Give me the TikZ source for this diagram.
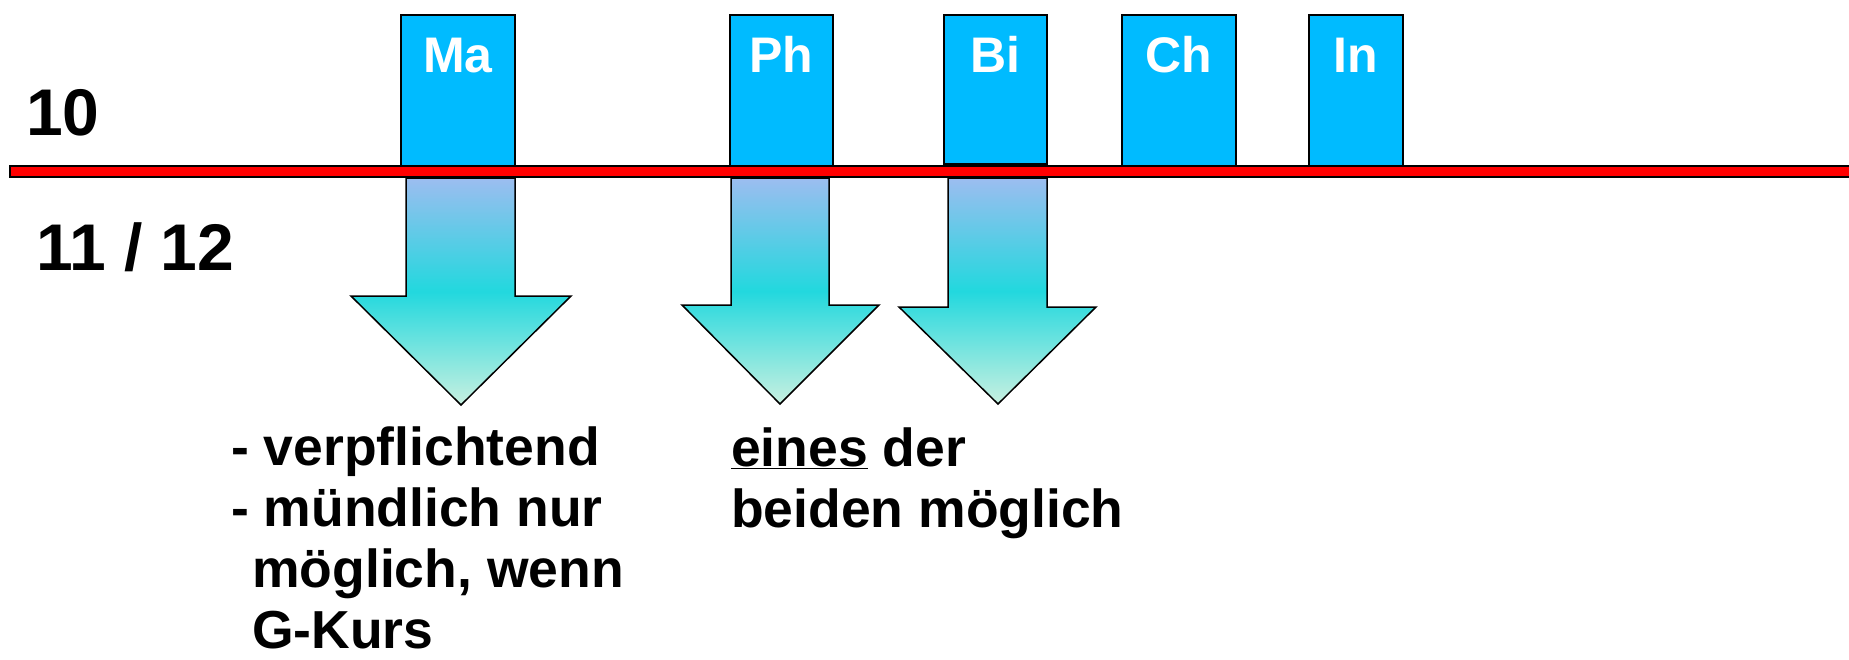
\documentclass[tikz,border=0pt]{standalone}
\usepackage{fontspec}
\setmainfont{Liberation Sans}
\definecolor{subjblue}{HTML}{00BBFF}
\definecolor{arrtop}{HTML}{9CBDF0}
\definecolor{arrmid}{HTML}{22D8DE}
\definecolor{arrbot}{HTML}{C8F0E0}
\usetikzlibrary{positioning}

\begin{document}
\begin{tikzpicture}[x=1pt, y=-1pt,
  subj/.style={draw, line width=1.5pt, fill=subjblue, minimum width=#1, minimum height=151pt, anchor=north west, inner sep=0pt},
  subjlbl/.style={anchor=base, inner sep=0pt, text=white, font=\fontsize{50}{60}\selectfont\bfseries},
  grade/.style={anchor=base west, inner sep=0pt, font=\fontsize{66}{79}\selectfont\bfseries},
  note/.style={anchor=base west, inner sep=0pt, align=left, text depth=0pt, font=\fontsize{53.5}{61}\selectfont\bfseries},
  arrsh/.style={draw, line width=1.5pt, top color=arrtop, bottom color=arrbot, middle color=arrmid},
]
\useasboundingbox (0,0) rectangle (1849,659);

% Subject boxes (grade 10)
\node[subj=114pt] (ma) at (400,14) {};
\node[subj=103pt] (ph) at (729,14) {};
\node[subj=103pt, minimum height=149pt] (bi) at (943,14) {};
\node[subj=114pt] (ch) at (1121,14) {};
\node[subj=94pt] (inf) at (1308,14) {};

\node[subjlbl] at ([yshift=-58pt]ma.north) {Ma};
\node[subjlbl] at ([yshift=-58pt]ph.north) {Ph};
\node[subjlbl] at ([yshift=-58pt]bi.north) {Bi};
\node[subjlbl] at ([yshift=-58pt]ch.north) {Ch};
\node[subjlbl] at ([yshift=-58pt]inf.north) {In};

% Grade separator
\draw[fill=red, line width=1.5pt] (10,166) rectangle (1862,177);

\node[grade] (g10) at (26,135) {10};
\node[grade] (g1112) at (36,270) {11 / 12};

% Arrows into 11/12
\draw[arrsh] (406,178) -- (515,178) -- (515,296) -- (571,296) -- (461,405) -- (351,296) -- (406,296) -- cycle;
\draw[arrsh] (731,178) -- (829,178) -- (829,305) -- (879,305) -- (780,404) -- (682,305) -- (731,305) -- cycle;
\draw[arrsh] (948,178) -- (1047,178) -- (1047,307) -- (1096,307) -- (998,404) -- (899,307) -- (948,307) -- cycle;

% Notes (anchored at the baseline of the last line)
\node[note] (manote) at (231,648) {- verpflichtend\\- mündlich nur\\\hspace*{21pt}möglich, wenn\\\hspace*{21pt}G-Kurs};
\node[note] (phbinote) at (731,527) {\underline{eines} der\\beiden möglich};

\end{tikzpicture}
\end{document}
